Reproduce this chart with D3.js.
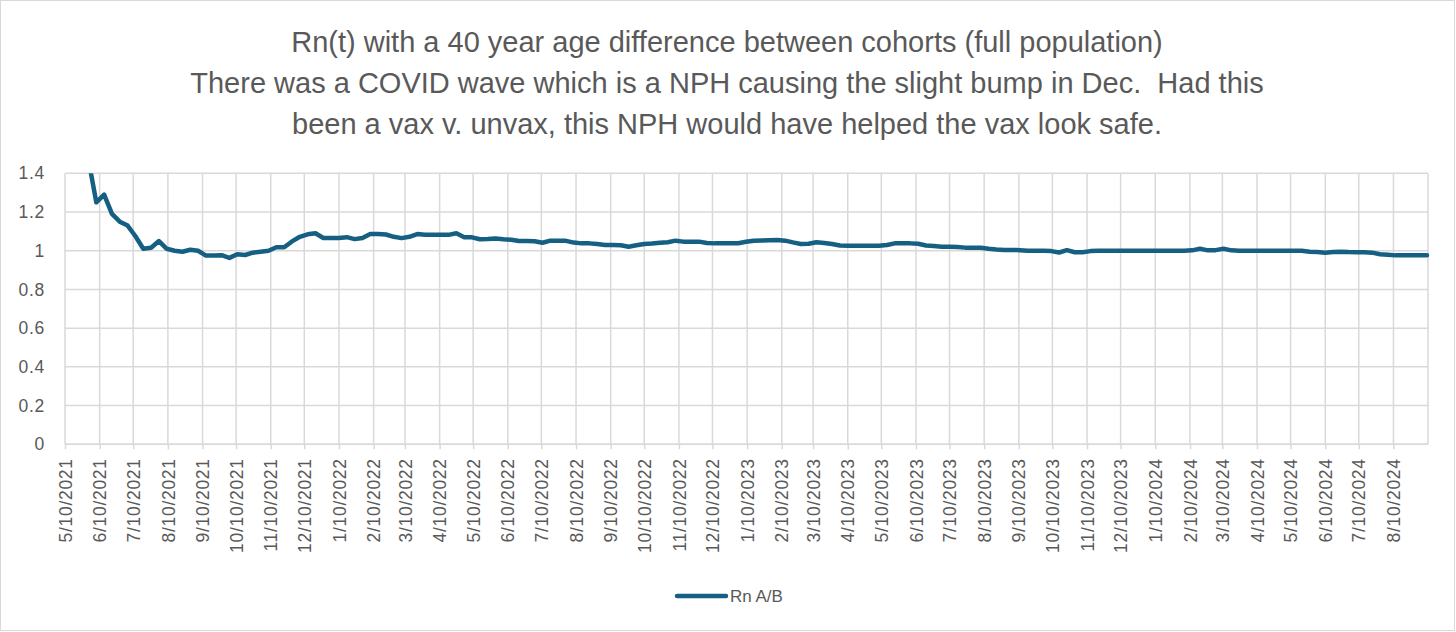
<!DOCTYPE html>
<html>
<head>
<meta charset="utf-8">
<script src="https://cdn.jsdelivr.net/npm/d3@7"></script>
<style>
  body { margin: 0; background: #fff; }
  text { font-family: "Liberation Sans", Arial, sans-serif; fill: #595959; }
</style>
</head>
<body>
<div id="chart"></div>
<script>
// data
const titleLines = [
  "Rn(t) with a 40 year age difference between cohorts (full population)",
  "There was a COVID wave which is a NPH causing the slight bump in Dec.  Had this",
  "been a vax v. unvax, this NPH would have helped the vax look safe."
];
const seriesName = "Rn A/B";
const firstWeek = "2021-05-10";
// weekly Rn A/B values, one per Monday from 5/10/2021
const rnValues = [
  2.6, 2.2, 1.8, 1.47, 1.25, 1.29, 1.19, 1.15, 1.13, 1.075,
  1.01, 1.015, 1.05, 1.01, 1.0, 0.995, 1.005, 1.0, 0.975, 0.975,
  0.977, 0.963, 0.982, 0.978, 0.99, 0.995, 1.0, 1.018, 1.018, 1.048,
  1.072, 1.085, 1.09, 1.066, 1.066, 1.066, 1.07, 1.06, 1.066, 1.086,
  1.087, 1.084, 1.072, 1.065, 1.072, 1.086, 1.083, 1.083, 1.083, 1.082,
  1.09, 1.07, 1.069, 1.059, 1.06, 1.063, 1.059, 1.057, 1.05, 1.05,
  1.049, 1.041, 1.052, 1.052, 1.051, 1.042, 1.038, 1.038, 1.035, 1.03,
  1.029, 1.028, 1.021, 1.028, 1.035, 1.037, 1.041, 1.044, 1.052, 1.047,
  1.047, 1.047, 1.04, 1.038, 1.038, 1.038, 1.039, 1.046, 1.052, 1.053,
  1.054, 1.055, 1.052, 1.043, 1.035, 1.036, 1.044, 1.04, 1.035, 1.027,
  1.026, 1.026, 1.026, 1.026, 1.026, 1.03, 1.038, 1.038, 1.038, 1.036,
  1.027, 1.024, 1.021, 1.021, 1.019, 1.016, 1.016, 1.015, 1.01, 1.006,
  1.004, 1.004, 1.003, 1.0, 1.0, 1.0, 0.998, 0.991, 1.003, 0.992,
  0.992, 0.998, 1.0, 1.0, 1.0, 1.0, 1.0, 1.0, 1.0, 1.0,
  1.0, 1.0, 1.0, 1.0, 1.002, 1.01, 1.002, 1.003, 1.01, 1.002,
  1.0, 1.0, 1.0, 1.0, 1.0, 1.0, 1.0, 1.0, 1.0, 0.995,
  0.993, 0.99, 0.993, 0.995, 0.993, 0.992, 0.992, 0.99, 0.982, 0.979,
  0.976, 0.976, 0.976, 0.976, 0.976
];
const xTickLabels = [
  "5/10/2021", "6/10/2021", "7/10/2021", "8/10/2021", "9/10/2021", "10/10/2021",
  "11/10/2021", "12/10/2021", "1/10/2022", "2/10/2022", "3/10/2022", "4/10/2022",
  "5/10/2022", "6/10/2022", "7/10/2022", "8/10/2022", "9/10/2022", "10/10/2022",
  "11/10/2022", "12/10/2022", "1/10/2023", "2/10/2023", "3/10/2023", "4/10/2023",
  "5/10/2023", "6/10/2023", "7/10/2023", "8/10/2023", "9/10/2023", "10/10/2023",
  "11/10/2023", "12/10/2023", "1/10/2024", "2/10/2024", "3/10/2024", "4/10/2024",
  "5/10/2024", "6/10/2024", "7/10/2024", "8/10/2024"
];
const yTickValues = [0, 0.2, 0.4, 0.6, 0.8, 1, 1.2, 1.4];

// constants
const w = 1456;
const h = 632;
const plot = { left: 65, right: 1427, top: 173.3, bottom: 444.3 };
const lineColor = "#156082";
const gridColor = "#d9d9d9";
const titleBaselines = [52, 93, 133.5];

const parseMDY = d3.utcParse("%m/%d/%Y");
const start = d3.utcParse("%Y-%m-%d")(firstWeek);
const dataset = rnValues.map((v, i) => ({ date: d3.utcDay.offset(start, 7 * i), value: v }));
const tickDates = xTickLabels.map(parseMDY);

const svg = d3.select("#chart")
  .append("svg")
  .attr("width", w)
  .attr("height", h);

// chart border
svg.append("rect")
  .attr("x", 0.5).attr("y", 0.5)
  .attr("width", w - 2).attr("height", h - 2)
  .attr("fill", "#fff")
  .attr("stroke", gridColor)
  .attr("stroke-width", 1);

// title
svg.append("g")
  .selectAll("text")
  .data(titleLines)
  .enter()
  .append("text")
  .attr("x", w / 2 - 1)
  .attr("y", (d, i) => titleBaselines[i])
  .attr("text-anchor", "middle")
  .attr("xml:space", "preserve")
  .style("white-space", "pre")
  .style("font-size", "29px")
  .text(d => d);

// scales
const xScale = d3.scaleUtc()
  .domain([start, dataset[dataset.length - 1].date])
  .range([plot.left, plot.right]);
const yScale = d3.scaleLinear()
  .domain([0, 1.4])
  .range([plot.bottom, plot.top]);

// gridlines
svg.append("g")
  .selectAll("line")
  .data(yTickValues)
  .enter()
  .append("line")
  .attr("x1", plot.left).attr("x2", plot.right + 1)
  .attr("y1", d => yScale(d)).attr("y2", d => yScale(d))
  .attr("stroke", gridColor)
  .attr("stroke-width", 1.5);
svg.append("g")
  .selectAll("line")
  .data(tickDates.concat([xScale.invert(plot.right + 1)]))
  .enter()
  .append("line")
  .attr("x1", d => xScale(d)).attr("x2", d => xScale(d))
  .attr("y1", plot.top).attr("y2", plot.bottom)
  .attr("stroke", gridColor)
  .attr("stroke-width", 1.5);

// axes
const xAxis = d3.axisBottom(xScale)
  .tickValues(tickDates)
  .tickSize(5)
  .tickPadding(0)
  .tickFormat((d, i) => xTickLabels[i]);
const gx = svg.append("g")
  .attr("transform", "translate(0," + plot.bottom + ")")
  .call(xAxis);
gx.select(".domain").attr("stroke", gridColor).attr("stroke-width", 1.5)
  .attr("d", `M${plot.left},0H${plot.right + 1}`);
gx.selectAll(".tick line").attr("stroke", gridColor).attr("stroke-width", 1.5);
gx.selectAll(".tick text")
  .attr("transform", "rotate(-90)")
  .attr("text-anchor", "end")
  .attr("x", -14)
  .attr("y", 0)
  .attr("dy", "0.35em")
  .style("font-size", "17.5px")
  .style("letter-spacing", "0.7px")
  .style("font-family", "'Liberation Sans', Arial, sans-serif")
  .attr("fill", "#595959");

const yAxis = d3.axisLeft(yScale)
  .tickValues(yTickValues)
  .tickSize(0)
  .tickPadding(20)
  .tickFormat(d => d === 0 || d === 1 ? String(d) : d.toFixed(1));
const gy = svg.append("g")
  .attr("transform", "translate(" + plot.left + ",0)")
  .call(yAxis);
gy.select(".domain").remove();
gy.selectAll(".tick text")
  .style("font-size", "17.5px")
  .style("letter-spacing", "0.7px")
  .style("font-family", "'Liberation Sans', Arial, sans-serif")
  .attr("fill", "#595959");

// line, clipped to the plot area
svg.append("clipPath")
  .attr("id", "plot-clip")
  .append("rect")
  .attr("x", plot.left - 5).attr("y", plot.top)
  .attr("width", plot.right - plot.left + 10)
  .attr("height", plot.bottom - plot.top);

const line = d3.line()
  .x(d => xScale(d.date))
  .y(d => yScale(d.value));
svg.append("path")
  .datum(dataset)
  .attr("clip-path", "url(#plot-clip)")
  .attr("d", line)
  .attr("fill", "none")
  .attr("stroke", lineColor)
  .attr("stroke-width", 4.5)
  .attr("stroke-linejoin", "round")
  .attr("stroke-linecap", "round");

// legend
const legend = svg.append("g").attr("transform", "translate(677,596)");
legend.append("line")
  .attr("x1", 0).attr("x2", 49)
  .attr("stroke", lineColor)
  .attr("stroke-width", 4.5)
  .attr("stroke-linecap", "round");
legend.append("text")
  .attr("x", 53)
  .attr("dy", "0.35em")
  .style("font-size", "17px")
  .text(seriesName);
</script>
</body>
</html>
